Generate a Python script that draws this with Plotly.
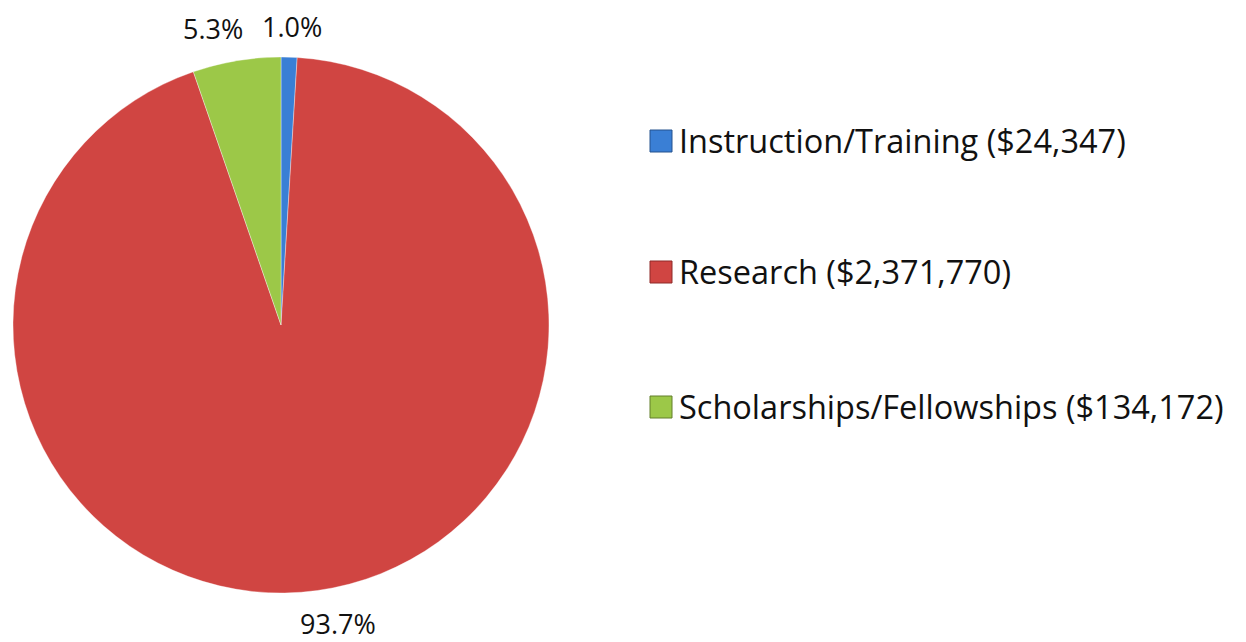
import math
import plotly.graph_objects as go

categories = ["Instruction/Training", "Research", "Scholarships/Fellowships"]
amounts = [24347, 2371770, 134172]
amount_labels = ["$24,347", "$2,371,770", "$134,172"]
colors = ["#3a7fd5", "#d04542", "#9cc848"]
edge_colors = ["#24528e", "#8e2a28", "#627f2a"]

# the page body has an 8px margin; size the figure so it fills the window
PAGE_W, PAGE_H, BODY = 1246, 642, 8
W, H = PAGE_W - BODY, PAGE_H - BODY
FONT = "Open Sans"


def px(x):
    return (x - BODY) / W


def py(y):
    return 1 - (y - BODY) / H


# pie geometry (window pixels)
CX, CY, R = 281, 325, 268

fig = go.Figure()
fig.add_trace(go.Pie(
    labels=categories,
    values=amounts,
    sort=False,
    direction="clockwise",
    rotation=0,
    marker=dict(colors=colors, line=dict(color="rgba(255,255,255,0.6)", width=0.6)),
    textinfo="none",
    showlegend=False,
    domain=dict(x=[px(CX - R), px(CX + R)], y=[py(CY + R), py(CY - R)]),
    hoverinfo="label+value+percent",
))

# percentage labels placed outside, radially from each slice's middle angle
total = sum(amounts)
nudge_deg = [0.3, -3.0, -3.4]
label_r = [299, 304, 304]
cum = 0.0
for v, nd, lr in zip(amounts, nudge_deg, label_r):
    frac = v / total
    mid = (cum + frac / 2) * 360.0
    cum += frac
    ang = math.radians(mid + nd)
    lx = CX + lr * math.sin(ang)
    ly = CY - lr * math.cos(ang)
    fig.add_annotation(xref="paper", yref="paper", x=px(lx), y=py(ly),
                       xanchor="center", yanchor="middle", showarrow=False,
                       borderpad=0,
                       text=f"{frac:.1%}",
                       font=dict(family=FONT, size=27, color="#111111"))

# legend drawn from the data arrays
leg_y = [140, 271, 406]
for cat, amt, col, ec, y in zip(categories, amount_labels, colors, edge_colors, leg_y):
    fig.add_shape(type="rect", xref="paper", yref="paper",
                  x0=px(650), x1=px(672), y0=py(y + 12), y1=py(y - 10),
                  fillcolor=col, line=dict(color=ec, width=1))
    fig.add_annotation(xref="paper", yref="paper", x=px(677), y=py(y),
                       xanchor="left", yanchor="middle", showarrow=False,
                       text=f"{cat} ({amt})",
                       font=dict(family=FONT, size=32.5, color="#111111"))

fig.update_layout(
    width=W, height=H,
    margin=dict(l=0, r=0, t=0, b=0),
    paper_bgcolor="white", plot_bgcolor="white",
)
fig.write_html("out.html")
